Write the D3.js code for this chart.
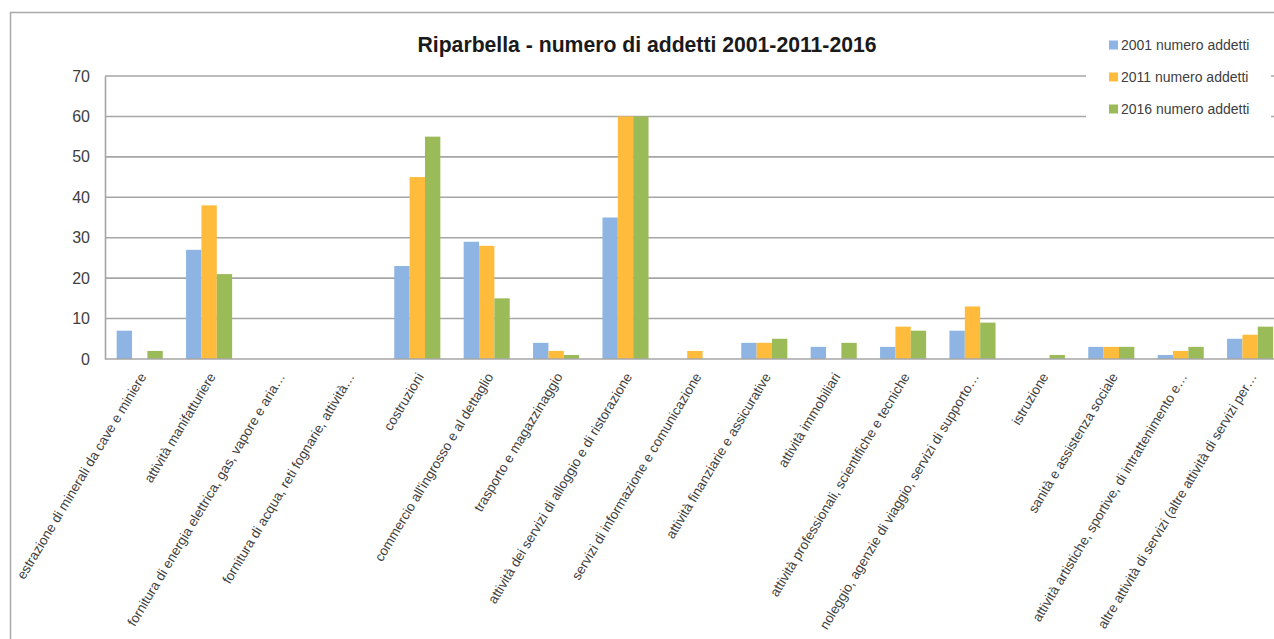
<!DOCTYPE html>
<html>
<head>
<meta charset="utf-8">
<script src="https://cdn.jsdelivr.net/npm/d3@7"></script>
<style>
html,body{margin:0;padding:0;background:#fff;overflow:hidden;}
svg{display:block;font-family:"Liberation Sans",Arial,sans-serif;}
</style>
</head>
<body>
<svg id="chart" width="1274" height="639"></svg>
<script>
const categories = [
  "estrazione di minerali da cave e miniere",
  "attività manifatturiere",
  "fornitura di energia elettrica, gas, vapore e aria…",
  "fornitura di acqua, reti fognarie, attività…",
  "costruzioni",
  "commercio all'ingrosso e al dettaglio",
  "trasporto e magazzinaggio",
  "attività dei servizi di alloggio e di ristorazione",
  "servizi di informazione e comunicazione",
  "attività finanziarie e assicurative",
  "attività immobiliari",
  "attività professionali, scientifiche e tecniche",
  "noleggio, agenzie di viaggio, servizi di supporto…",
  "istruzione",
  "sanità e assistenza sociale",
  "attività artistiche, sportive, di intrattenimento e…",
  "altre attività di servizi (altre attività di servizi per…"
];
const seriesNames = ["2001 numero addetti", "2011 numero addetti", "2016 numero addetti"];
const values2001 = [7, 27, 0, 0, 23, 29, 4, 35, 0, 4, 3, 3, 7, 0, 3, 1, 5];
const values2011 = [0, 38, 0, 0, 45, 28, 2, 60, 2, 4, 0, 8, 13, 0, 3, 2, 6];
const values2016 = [2, 21, 0, 0, 55, 15, 1, 60, 0, 5, 4, 7, 9, 1, 3, 3, 8];
const yTicks = [0, 10, 20, 30, 40, 50, 60, 70];
const title = "Riparbella - numero di addetti 2001-2011-2016";
const colors = ["#8db4e2", "#ffbb3c", "#9bbb59"];

const series = [values2001, values2011, values2016];
const svg = d3.select("#chart");

// outer border
svg.append("rect").attr("x", 10.5).attr("y", 12.5).attr("width", 1300).attr("height", 700)
  .attr("fill", "#fff").attr("stroke", "#a9a9a9").attr("stroke-width", 1.5);

const plotLeft = 105, plotTop = 76, plotBottom = 359;
const band = 69.4;
const x = d3.scaleBand().domain(categories).range([plotLeft, plotLeft + band * categories.length]).paddingInner(0.336).paddingOuter(0.168);
const xs = d3.scaleBand().domain(d3.range(3)).range([0, x.bandwidth()]);
const y = d3.scaleLinear().domain([0, 70]).range([plotBottom, plotTop]);

// gridlines
svg.append("g").selectAll("line").data(yTicks.filter(d => d > 0)).join("line")
  .attr("x1", plotLeft).attr("x2", 1300)
  .attr("y1", d => y(d)).attr("y2", d => y(d))
  .attr("stroke", "#a6a6a6").attr("stroke-width", 1.6);

// y axis labels
const yAxis = d3.axisLeft(y).tickValues(yTicks).tickSize(0).tickPadding(15);
const ya = svg.append("g").attr("transform", `translate(${plotLeft},0)`).call(yAxis);
ya.select(".domain").attr("stroke", "#a6a6a6").attr("stroke-width", 1.6);
ya.selectAll("text").attr("font-size", 16).attr("fill", "#404040").attr("font-family", "Liberation Sans, Arial, sans-serif");

// bars
const groups = svg.append("g").selectAll("g").data(series).join("g").attr("fill", (d, i) => colors[i]);
groups.each(function(vals, si) {
  d3.select(this).selectAll("rect").data(vals.map((v, ci) => ({v, c: categories[ci]}))).join("rect")
    .attr("x", d => x(d.c) + xs(si))
    .attr("width", xs.bandwidth())
    .attr("y", d => y(d.v))
    .attr("height", d => y(0) - y(d.v));
});

// x axis
const xAxis = d3.axisBottom(x).tickSize(0).tickPadding(0);
const xa = svg.append("g").attr("transform", `translate(0,${plotBottom})`).call(xAxis);
xa.select(".domain").attr("stroke", "#a6a6a6").attr("stroke-width", 1.6).attr("d", `M${plotLeft},0H1300`);
xa.selectAll("text")
  .attr("font-size", 13.5).attr("fill", "#404040").attr("font-family", "Liberation Sans, Arial, sans-serif")
  .attr("text-anchor", "end")
  .attr("transform", "translate(3,15) rotate(-59)")
  .attr("dy", "0.35em").attr("y", 0);

// title
svg.append("text").attr("x", 647).attr("y", 52).attr("text-anchor", "middle")
  .attr("font-size", 22).attr("font-weight", "bold").attr("fill", "#1a1a1a")
  .attr("textLength", 459).attr("lengthAdjust", "spacingAndGlyphs")
  .text(title);

// legend
const lg = svg.append("g");
lg.append("rect").attr("x", 1086).attr("y", 28).attr("width", 185).attr("height", 98).attr("fill", "#fff");
const li = lg.selectAll("g").data(seriesNames).join("g")
  .attr("transform", (d, i) => `translate(1109,${45 + i * 32})`);
li.append("rect").attr("x", 0).attr("y", -4.5).attr("width", 9).attr("height", 9).attr("fill", (d, i) => colors[i]);
li.append("text").attr("x", 12).attr("y", 0).attr("dy", "0.35em")
  .attr("font-size", 14).attr("fill", "#404040").text(d => d);
</script>
</body>
</html>
